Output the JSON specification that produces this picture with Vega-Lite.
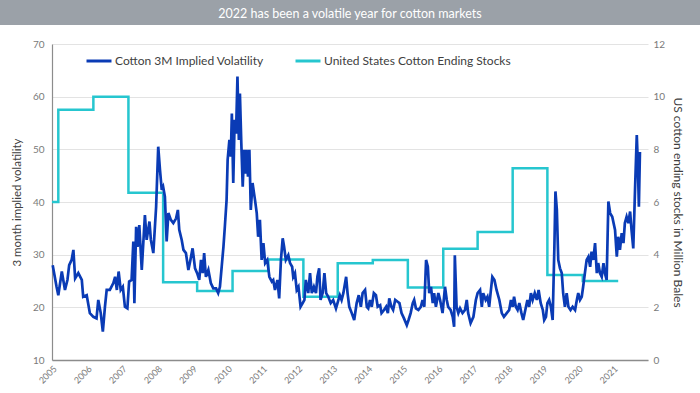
{
  "$schema": "https://vega.github.io/schema/vega-lite/v6.json",
  "padding": 0,
  "background": "white",
  "bounds": "flush",
  "center": true,
  "spacing": 19,
  "config": {"font": "Lato", "view": {"stroke": null}, "axisX": {"labelOverlap": false, "labelBound": false}},
  "datasets": {
    "vol": [
      {"year": 2005.02, "vol": 28.0}, {"year": 2005.13, "vol": 23.9}, {"year": 2005.18, "vol": 22.3}, {"year": 2005.28, "vol": 26.8},
      {"year": 2005.37, "vol": 23.3}, {"year": 2005.44, "vol": 25.2}, {"year": 2005.49, "vol": 28.0}, {"year": 2005.56, "vol": 29.0},
      {"year": 2005.61, "vol": 30.9}, {"year": 2005.66, "vol": 25.5}, {"year": 2005.75, "vol": 26.5}, {"year": 2005.85, "vol": 25.2},
      {"year": 2005.89, "vol": 22.0}, {"year": 2005.99, "vol": 22.3}, {"year": 2006.08, "vol": 18.9}, {"year": 2006.18, "vol": 18.2},
      {"year": 2006.27, "vol": 17.9}, {"year": 2006.32, "vol": 21.4}, {"year": 2006.39, "vol": 18.9}, {"year": 2006.45, "vol": 15.4},
      {"year": 2006.51, "vol": 20.1}, {"year": 2006.56, "vol": 23.3}, {"year": 2006.65, "vol": 23.3}, {"year": 2006.75, "vol": 24.6},
      {"year": 2006.80, "vol": 25.8}, {"year": 2006.85, "vol": 23.3}, {"year": 2006.90, "vol": 26.8}, {"year": 2006.96, "vol": 23.3},
      {"year": 2007.02, "vol": 23.9}, {"year": 2007.08, "vol": 20.1}, {"year": 2007.15, "vol": 19.8}, {"year": 2007.20, "vol": 24.9},
      {"year": 2007.27, "vol": 25.2}, {"year": 2007.32, "vol": 32.5}, {"year": 2007.35, "vol": 20.8}, {"year": 2007.40, "vol": 35.3},
      {"year": 2007.44, "vol": 31.5}, {"year": 2007.49, "vol": 35.6}, {"year": 2007.56, "vol": 27.1}, {"year": 2007.65, "vol": 37.5},
      {"year": 2007.70, "vol": 32.8}, {"year": 2007.78, "vol": 36.3}, {"year": 2007.82, "vol": 32.8}, {"year": 2007.89, "vol": 30.3},
      {"year": 2007.97, "vol": 39.1}, {"year": 2008.03, "vol": 50.5}, {"year": 2008.08, "vol": 46.1}, {"year": 2008.13, "vol": 42.3},
      {"year": 2008.17, "vol": 42.9}, {"year": 2008.22, "vol": 41.0}, {"year": 2008.27, "vol": 32.5}, {"year": 2008.32, "vol": 37.9},
      {"year": 2008.39, "vol": 36.6}, {"year": 2008.46, "vol": 36.0}, {"year": 2008.54, "vol": 36.9}, {"year": 2008.59, "vol": 38.5},
      {"year": 2008.63, "vol": 34.7}, {"year": 2008.70, "vol": 32.8}, {"year": 2008.75, "vol": 30.9}, {"year": 2008.82, "vol": 30.3},
      {"year": 2008.89, "vol": 27.1}, {"year": 2008.94, "vol": 28.7}, {"year": 2009.01, "vol": 31.2}, {"year": 2009.08, "vol": 27.4},
      {"year": 2009.14, "vol": 26.5}, {"year": 2009.20, "vol": 25.2}, {"year": 2009.25, "vol": 29.0}, {"year": 2009.30, "vol": 26.5},
      {"year": 2009.34, "vol": 30.3}, {"year": 2009.39, "vol": 25.8}, {"year": 2009.46, "vol": 27.1}, {"year": 2009.53, "vol": 24.6},
      {"year": 2009.60, "vol": 23.6}, {"year": 2009.68, "vol": 23.6}, {"year": 2009.74, "vol": 22.7}, {"year": 2009.79, "vol": 23.9},
      {"year": 2009.84, "vol": 27.7}, {"year": 2009.89, "vol": 31.5}, {"year": 2009.93, "vol": 35.3}, {"year": 2009.98, "vol": 40.4},
      {"year": 2010.01, "vol": 48.0}, {"year": 2010.06, "vol": 51.8}, {"year": 2010.10, "vol": 48.6}, {"year": 2010.13, "vol": 56.8},
      {"year": 2010.17, "vol": 43.6}, {"year": 2010.21, "vol": 55.6}, {"year": 2010.25, "vol": 53.0}, {"year": 2010.29, "vol": 63.8},
      {"year": 2010.33, "vol": 51.8}, {"year": 2010.36, "vol": 60.6}, {"year": 2010.40, "vol": 51.1}, {"year": 2010.44, "vol": 42.9},
      {"year": 2010.48, "vol": 49.9}, {"year": 2010.51, "vol": 45.4}, {"year": 2010.55, "vol": 49.9}, {"year": 2010.59, "vol": 44.8},
      {"year": 2010.63, "vol": 49.9}, {"year": 2010.67, "vol": 38.5}, {"year": 2010.72, "vol": 43.6}, {"year": 2010.79, "vol": 40.4},
      {"year": 2010.84, "vol": 37.9}, {"year": 2010.88, "vol": 33.4}, {"year": 2010.93, "vol": 36.6}, {"year": 2010.98, "vol": 29.0},
      {"year": 2011.03, "vol": 32.2}, {"year": 2011.08, "vol": 28.4}, {"year": 2011.14, "vol": 29.0}, {"year": 2011.20, "vol": 25.8},
      {"year": 2011.27, "vol": 24.9}, {"year": 2011.31, "vol": 25.2}, {"year": 2011.36, "vol": 23.3}, {"year": 2011.43, "vol": 25.2},
      {"year": 2011.48, "vol": 21.7}, {"year": 2011.53, "vol": 29.0}, {"year": 2011.58, "vol": 33.1}, {"year": 2011.62, "vol": 31.5},
      {"year": 2011.67, "vol": 29.0}, {"year": 2011.74, "vol": 29.9}, {"year": 2011.79, "vol": 28.4}, {"year": 2011.85, "vol": 27.7},
      {"year": 2011.88, "vol": 25.8}, {"year": 2011.93, "vol": 26.5}, {"year": 2011.98, "vol": 23.3}, {"year": 2012.03, "vol": 23.9},
      {"year": 2012.09, "vol": 20.1}, {"year": 2012.15, "vol": 20.8}, {"year": 2012.20, "vol": 21.4}, {"year": 2012.24, "vol": 25.2},
      {"year": 2012.31, "vol": 22.7}, {"year": 2012.36, "vol": 26.5}, {"year": 2012.41, "vol": 22.7}, {"year": 2012.47, "vol": 23.9},
      {"year": 2012.53, "vol": 22.7}, {"year": 2012.57, "vol": 25.8}, {"year": 2012.62, "vol": 27.4}, {"year": 2012.66, "vol": 21.4},
      {"year": 2012.72, "vol": 22.7}, {"year": 2012.77, "vol": 26.5}, {"year": 2012.82, "vol": 22.7}, {"year": 2012.88, "vol": 22.0},
      {"year": 2012.95, "vol": 20.8}, {"year": 2013.02, "vol": 21.4}, {"year": 2013.10, "vol": 19.8}, {"year": 2013.17, "vol": 21.4},
      {"year": 2013.21, "vol": 22.3}, {"year": 2013.26, "vol": 21.4}, {"year": 2013.31, "vol": 22.7}, {"year": 2013.39, "vol": 25.8},
      {"year": 2013.43, "vol": 22.7}, {"year": 2013.48, "vol": 20.1}, {"year": 2013.55, "vol": 18.9}, {"year": 2013.62, "vol": 17.6},
      {"year": 2013.69, "vol": 20.8}, {"year": 2013.75, "vol": 22.3}, {"year": 2013.81, "vol": 20.1}, {"year": 2013.86, "vol": 22.7},
      {"year": 2013.93, "vol": 23.3}, {"year": 2013.98, "vol": 20.1}, {"year": 2014.02, "vol": 19.8}, {"year": 2014.07, "vol": 21.4},
      {"year": 2014.12, "vol": 20.1}, {"year": 2014.18, "vol": 22.7}, {"year": 2014.24, "vol": 22.3}, {"year": 2014.29, "vol": 20.1},
      {"year": 2014.36, "vol": 20.4}, {"year": 2014.40, "vol": 18.9}, {"year": 2014.47, "vol": 19.5}, {"year": 2014.53, "vol": 20.1},
      {"year": 2014.58, "vol": 18.9}, {"year": 2014.62, "vol": 21.7}, {"year": 2014.68, "vol": 20.1}, {"year": 2014.73, "vol": 19.5},
      {"year": 2014.79, "vol": 21.4}, {"year": 2014.85, "vol": 21.1}, {"year": 2014.91, "vol": 20.8}, {"year": 2014.97, "vol": 18.9},
      {"year": 2015.04, "vol": 17.9}, {"year": 2015.12, "vol": 16.6}, {"year": 2015.17, "vol": 17.6}, {"year": 2015.23, "vol": 18.9},
      {"year": 2015.29, "vol": 20.8}, {"year": 2015.33, "vol": 21.4}, {"year": 2015.38, "vol": 19.8}, {"year": 2015.45, "vol": 19.5},
      {"year": 2015.52, "vol": 20.1}, {"year": 2015.57, "vol": 21.4}, {"year": 2015.62, "vol": 20.1}, {"year": 2015.67, "vol": 29.0},
      {"year": 2015.72, "vol": 27.7}, {"year": 2015.76, "vol": 22.7}, {"year": 2015.81, "vol": 23.9}, {"year": 2015.86, "vol": 20.8},
      {"year": 2015.90, "vol": 22.7}, {"year": 2015.95, "vol": 20.1}, {"year": 2016.02, "vol": 22.7}, {"year": 2016.07, "vol": 21.4},
      {"year": 2016.14, "vol": 18.9}, {"year": 2016.21, "vol": 23.9}, {"year": 2016.26, "vol": 21.4}, {"year": 2016.30, "vol": 20.1},
      {"year": 2016.37, "vol": 19.5}, {"year": 2016.43, "vol": 18.2}, {"year": 2016.47, "vol": 16.3}, {"year": 2016.49, "vol": 29.9},
      {"year": 2016.54, "vol": 20.1}, {"year": 2016.59, "vol": 18.9}, {"year": 2016.64, "vol": 19.8}, {"year": 2016.71, "vol": 18.9},
      {"year": 2016.78, "vol": 19.5}, {"year": 2016.83, "vol": 21.4}, {"year": 2016.87, "vol": 18.9}, {"year": 2016.94, "vol": 17.0},
      {"year": 2017.02, "vol": 18.2}, {"year": 2017.09, "vol": 21.4}, {"year": 2017.14, "vol": 22.7}, {"year": 2017.21, "vol": 23.3},
      {"year": 2017.26, "vol": 20.1}, {"year": 2017.30, "vol": 22.7}, {"year": 2017.37, "vol": 21.4}, {"year": 2017.42, "vol": 22.0},
      {"year": 2017.47, "vol": 20.1}, {"year": 2017.51, "vol": 22.7}, {"year": 2017.56, "vol": 25.8}, {"year": 2017.62, "vol": 25.2},
      {"year": 2017.68, "vol": 23.3}, {"year": 2017.76, "vol": 21.4}, {"year": 2017.83, "vol": 18.9}, {"year": 2017.89, "vol": 18.2},
      {"year": 2017.97, "vol": 18.9}, {"year": 2018.04, "vol": 19.5}, {"year": 2018.09, "vol": 21.4}, {"year": 2018.14, "vol": 20.1},
      {"year": 2018.18, "vol": 22.0}, {"year": 2018.23, "vol": 20.1}, {"year": 2018.28, "vol": 19.5}, {"year": 2018.33, "vol": 20.8},
      {"year": 2018.39, "vol": 18.9}, {"year": 2018.44, "vol": 17.6}, {"year": 2018.50, "vol": 19.5}, {"year": 2018.56, "vol": 21.4},
      {"year": 2018.61, "vol": 20.1}, {"year": 2018.66, "vol": 22.7}, {"year": 2018.71, "vol": 21.4}, {"year": 2018.77, "vol": 22.7},
      {"year": 2018.83, "vol": 21.4}, {"year": 2018.88, "vol": 23.3}, {"year": 2018.94, "vol": 20.8}, {"year": 2019.00, "vol": 19.5},
      {"year": 2019.04, "vol": 17.6}, {"year": 2019.09, "vol": 18.2}, {"year": 2019.13, "vol": 20.8}, {"year": 2019.18, "vol": 21.4},
      {"year": 2019.23, "vol": 20.1}, {"year": 2019.28, "vol": 17.6}, {"year": 2019.33, "vol": 31.5}, {"year": 2019.36, "vol": 42.0},
      {"year": 2019.40, "vol": 38.5}, {"year": 2019.44, "vol": 29.0}, {"year": 2019.49, "vol": 27.4}, {"year": 2019.54, "vol": 26.5},
      {"year": 2019.58, "vol": 22.7}, {"year": 2019.63, "vol": 20.1}, {"year": 2019.68, "vol": 22.7}, {"year": 2019.73, "vol": 20.1},
      {"year": 2019.79, "vol": 19.5}, {"year": 2019.85, "vol": 20.1}, {"year": 2019.92, "vol": 19.5}, {"year": 2019.97, "vol": 21.4},
      {"year": 2020.01, "vol": 22.7}, {"year": 2020.06, "vol": 21.4}, {"year": 2020.11, "vol": 22.0}, {"year": 2020.15, "vol": 23.9},
      {"year": 2020.20, "vol": 26.5}, {"year": 2020.25, "vol": 29.0}, {"year": 2020.30, "vol": 29.6}, {"year": 2020.35, "vol": 27.7},
      {"year": 2020.39, "vol": 30.6}, {"year": 2020.44, "vol": 29.0}, {"year": 2020.49, "vol": 32.2}, {"year": 2020.54, "vol": 26.5},
      {"year": 2020.58, "vol": 28.4}, {"year": 2020.63, "vol": 26.5}, {"year": 2020.68, "vol": 25.8}, {"year": 2020.73, "vol": 28.4},
      {"year": 2020.77, "vol": 26.5}, {"year": 2020.82, "vol": 25.2}, {"year": 2020.87, "vol": 40.1}, {"year": 2020.92, "vol": 37.9},
      {"year": 2020.98, "vol": 37.2}, {"year": 2021.06, "vol": 34.7}, {"year": 2021.11, "vol": 29.6}, {"year": 2021.15, "vol": 33.4},
      {"year": 2021.20, "vol": 30.9}, {"year": 2021.25, "vol": 34.1}, {"year": 2021.30, "vol": 32.2}, {"year": 2021.34, "vol": 36.0},
      {"year": 2021.39, "vol": 37.2}, {"year": 2021.44, "vol": 36.0}, {"year": 2021.49, "vol": 38.2}, {"year": 2021.53, "vol": 34.7},
      {"year": 2021.58, "vol": 31.2}, {"year": 2021.63, "vol": 42.3}, {"year": 2021.68, "vol": 52.7}, {"year": 2021.71, "vol": 47.3},
      {"year": 2021.74, "vol": 39.1}, {"year": 2021.77, "vol": 49.5}
    ],
    "stocks": [
      {"year": 2005.0, "stocks": 6.0}, {"year": 2005.18, "stocks": 9.5}, {"year": 2006.18, "stocks": 10.0},
      {"year": 2007.18, "stocks": 6.35}, {"year": 2008.17, "stocks": 2.95}, {"year": 2009.14, "stocks": 2.62},
      {"year": 2010.15, "stocks": 3.38}, {"year": 2011.17, "stocks": 3.82}, {"year": 2012.17, "stocks": 2.4},
      {"year": 2013.15, "stocks": 3.67}, {"year": 2014.15, "stocks": 3.8}, {"year": 2015.15, "stocks": 2.75},
      {"year": 2016.16, "stocks": 4.22}, {"year": 2017.14, "stocks": 4.86}, {"year": 2018.14, "stocks": 7.28},
      {"year": 2019.13, "stocks": 3.23}, {"year": 2020.14, "stocks": 3.0}, {"year": 2021.15, "stocks": 3.0}
    ]
  },
  "vconcat": [
    {
      "width": 700,
      "height": 25,
      "view": {"fill": "#9ba1a8", "stroke": null},
      "data": {"values": [{"title": "2022 has been a volatile year for cotton markets"}]},
      "mark": {"type": "text", "color": "white", "fontSize": 12.5, "align": "center", "baseline": "middle", "dy": 1},
      "encoding": {"text": {"field": "title"}}
    },
    {
      "width": 596,
      "height": 316,
      "encoding": {
        "x": {"field": "year", "type": "quantitative",
          "scale": {"domain": [2005, 2022], "nice": false, "zero": false},
          "axis": {"values": [2005, 2006, 2007, 2008, 2009, 2010, 2011, 2012, 2013, 2014, 2015, 2016, 2017, 2018, 2019, 2020, 2021],
            "format": "d", "labelAngle": -45, "labelOverlap": false, "grid": false, "ticks": false, "tickSize": 0, "labelPadding": 4,
            "domainColor": "#8c8c8c", "domainWidth": 1.5, "labelFontSize": 9, "labelColor": "#7a7a7a", "title": null}}
      },
      "layer": [
        {
          "data": {"name": "stocks"},
          "mark": {"type": "line", "interpolate": "step-after", "strokeWidth": 2.5},
          "encoding": {
            "y": {"field": "stocks", "type": "quantitative",
              "scale": {"domain": [0, 12], "nice": false},
              "axis": {"orient": "right", "values": [0, 2, 4, 6, 8, 10, 12], "grid": false, "domain": false, "ticks": false, "tickSize": 0,
                "labelPadding": 5, "labelFontSize": 10, "labelColor": "#7a7a7a",
                "title": "US cotton ending stocks in Million Bales", "titleFontSize": 12, "titleFontWeight": "normal", "titleColor": "#404040", "titlePadding": 6}},
            "color": {"datum": "United States Cotton Ending Stocks"}
          }
        },
        {
          "data": {"name": "vol"},
          "mark": {"type": "line", "strokeWidth": 2.7},
          "encoding": {
            "y": {"field": "vol", "type": "quantitative",
              "scale": {"domain": [10, 70], "nice": false, "zero": false},
              "axis": {"orient": "left", "values": [10, 20, 30, 40, 50, 60, 70], "grid": true, "gridColor": "#e3e3e3", "gridWidth": 1.2,
                "domain": true, "domainColor": "#8c8c8c", "domainWidth": 1.2, "ticks": false, "tickSize": 0,
                "labelPadding": 8, "labelFontSize": 10, "labelColor": "#7a7a7a",
                "title": "3 month implied volatility", "titleFontSize": 11.5, "titleFontWeight": "normal", "titleColor": "#404040", "titlePadding": 10}},
            "color": {"datum": "Cotton 3M Implied Volatility",
              "scale": {"domain": ["Cotton 3M Implied Volatility", "United States Cotton Ending Stocks"], "range": ["#0A3BB5", "#26C6CF"]},
              "legend": {"orient": "none", "legendX": 85, "legendY": 47, "direction": "horizontal", "title": null,
                "symbolType": "stroke", "symbolStrokeWidth": 3, "symbolSize": 625, "labelFontSize": 12, "labelColor": "#404040",
                "labelOffset": 2, "labelLimit": 300, "columnPadding": 25}}
          }
        }
      ],
      "resolve": {"scale": {"y": "independent"}}
    }
  ]
}
